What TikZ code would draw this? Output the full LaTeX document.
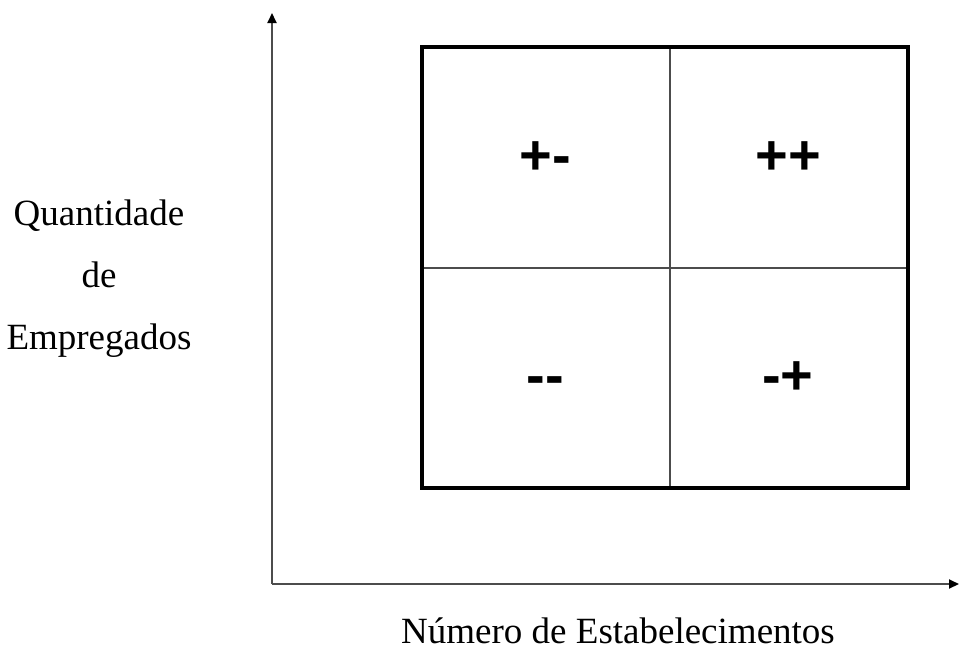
\documentclass[tikz,border=0pt]{standalone}
\usepackage{fontspec}
\setmainfont{Liberation Serif}
\newfontfamily\quadfont{Liberation Sans}
\usetikzlibrary{arrows.meta}
\begin{document}
\begin{tikzpicture}[x=1pt,y=-1pt,
  axisline/.style={draw=black!70, line width=2pt, -{Triangle[length=10pt,width=9pt,color=black]}},
  outerbox/.style={draw=black, line width=4pt},
  divider/.style={draw=black!70, line width=1.6pt},
  quadtext/.style={font=\quadfont\bfseries\fontsize{56}{60}\selectfont, inner sep=0pt, anchor=base},
  axislabel/.style={font=\fontsize{37}{40}\selectfont, inner sep=0pt, anchor=base}]
\useasboundingbox (0,0) rectangle (961,651);
% axes
\coordinate (O) at (272,584);
\coordinate (ytip) at (272,13);
\coordinate (xtip) at (959,584);
\draw[axisline] (O) -- (ytip);
\draw[axisline] (O) -- (xtip);
% box corners
\coordinate (tl) at (422,47);
\coordinate (br) at (908,488);
\coordinate (mt) at (670,47);
\coordinate (mb) at (670,488);
\coordinate (ml) at (422,268);
\coordinate (mr) at (908,268);
\draw[divider] (mt) -- (mb);
\draw[divider] (ml) -- (mr);
\draw[outerbox] (tl) rectangle (br);
% quadrant labels
\node[quadtext] (pm) at (545,174) {+-};
\node[quadtext] (pp) at (788,174) {++};
\node[quadtext] (mm) at (545,394) {-{}-};
\node[quadtext] (mp) at (788,394) {-+};
% axis labels
\node[axislabel] (q) at (99,225) {Quantidade};
\node[axislabel] (d) at (99,287) {de};
\node[axislabel] (e) at (99,349) {Empregados};
\node[axislabel] (n) at (618,643) {Número de Estabelecimentos};
\end{tikzpicture}
\end{document}
